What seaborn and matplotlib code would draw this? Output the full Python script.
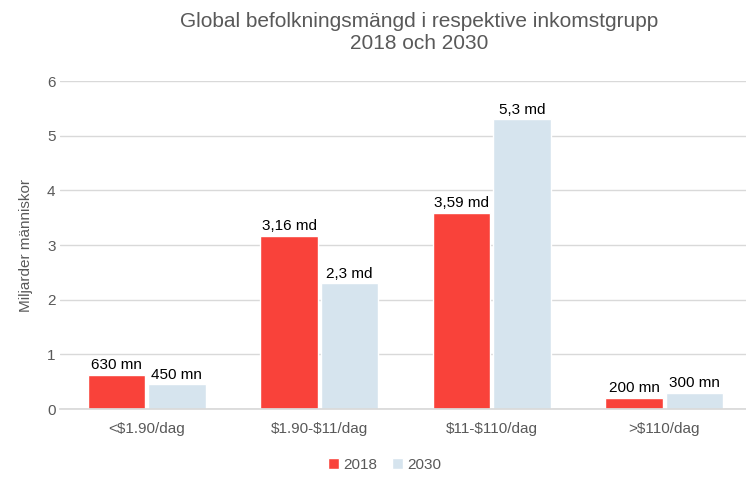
import pandas as pd
import numpy as np
import matplotlib.pyplot as plt
import seaborn as sns

sns.set_theme(style="whitegrid")
plt.rcParams['font.family'] = ['Liberation Sans', 'DejaVu Sans']
plt.rcParams['text.parse_math'] = False

# data
kategorier = ['<$1.90/dag', '$1.90-$11/dag', '$11-$110/dag', '>$110/dag']
varden_2018 = [0.63, 3.16, 3.59, 0.20]
varden_2030 = [0.45, 2.3, 5.3, 0.30]
etiketter_2018 = ['630 mn', '3,16 md', '3,59 md', '200 mn']
etiketter_2030 = ['450 mn', '2,3 md', '5,3 md', '300 mn']
ar = ['2018', '2030']

df = pd.DataFrame({
    'grupp': kategorier * 2,
    'varde': varden_2018 + varden_2030,
    'ar': [ar[0]] * 4 + [ar[1]] * 4,
})

fig = plt.figure(figsize=(7.46, 4.78), dpi=100)
ax = fig.add_axes([0.081, 0.1443, 0.925, 0.6862])

sns.barplot(data=df, x='grupp', y='varde', hue='ar', order=kategorier,
            palette=['#F9423A', '#D6E4EE'], width=0.7, gap=0.05,
            saturation=1, ax=ax, legend=True)

for cont, lab in zip(ax.containers, [etiketter_2018, etiketter_2030]):
    ax.bar_label(cont, labels=lab, padding=2, fontsize=11, color='black')

ax.set_ylim(0, 6)
ax.set_xlim(-0.5, 3.5)
ax.set_yticks(range(0, 7))
ax.set_xlabel('')
ax.set_ylabel('Miljarder människor', fontsize=11, color='#595959', labelpad=10)
ax.tick_params(axis='both', labelsize=11, colors='#595959', length=0)
ax.tick_params(axis='x', pad=9)
ax.grid(axis='y', color='#D9D9D9', linewidth=1)
ax.grid(axis='x', visible=False)
for s in ['top', 'right', 'left']:
    ax.spines[s].set_visible(False)
ax.spines['bottom'].set_color('#D9D9D9')
ax.set_axisbelow(True)

fig.text(0.562, 0.932, 'Global befolkningsmängd i respektive inkomstgrupp\n2018 och 2030',
         fontsize=15, color='#595959', ha='center', va='center', linespacing=1.25)

leg = ax.legend(loc='center', bbox_to_anchor=(0.47, -0.17), ncol=2, frameon=False,
                fontsize=11, handlelength=0.7, handleheight=0.7, handletextpad=0.3,
                columnspacing=1.0, labelcolor='#595959')

fig.savefig('out.png', dpi=100)
